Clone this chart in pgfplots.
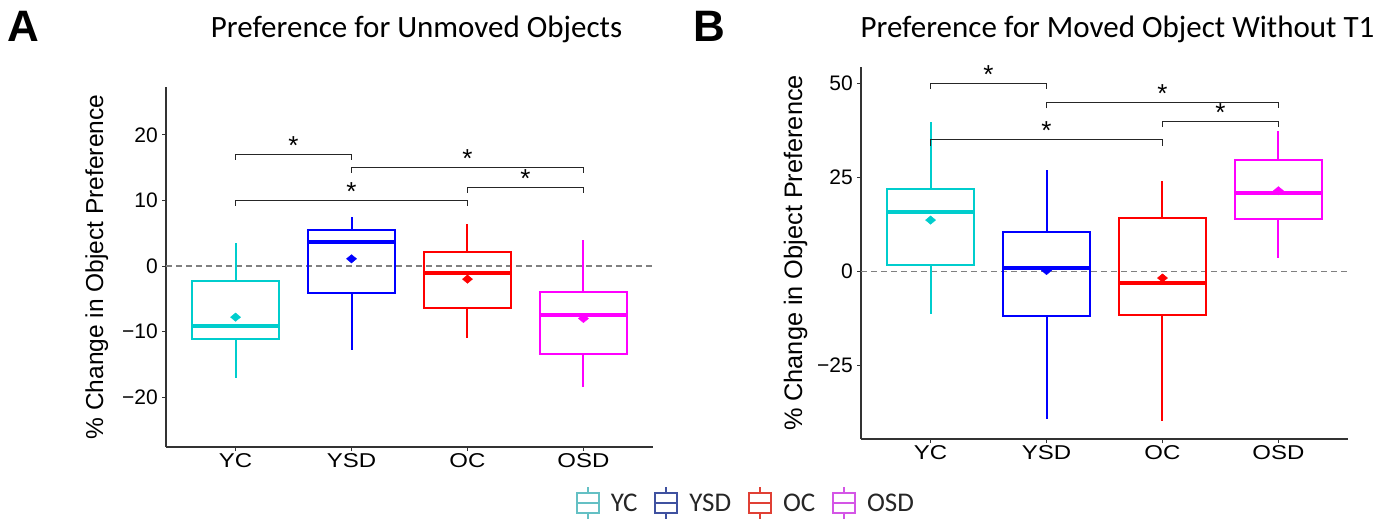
\documentclass[border=0pt]{standalone}
\usepackage{fontspec}
\setmainfont{Liberation Sans}
\newfontfamily\carl{Carlito}
\usepackage{graphicx}
\usepackage{pgfplots}
\pgfplotsset{compat=1.18}
\usepgfplotslibrary{statistics}
\definecolor{cYC}{RGB}{0,205,205}
\definecolor{cYSD}{RGB}{0,0,255}
\definecolor{cOC}{RGB}{255,0,0}
\definecolor{cOSD}{RGB}{255,0,255}
\definecolor{lYC}{RGB}{100,192,196}
\definecolor{lYSD}{RGB}{63,81,160}
\definecolor{lOC}{RGB}{224,64,53}
\definecolor{lOSD}{RGB}{212,85,230}
\definecolor{axgray}{RGB}{51,51,51}
\tikzset{ast/.style={font=\fontsize{26bp}{28bp}\selectfont, yshift=9bp}}
\pgfplotsset{
  boxleg/.style={legend image code/.code={
    \draw[##1, line width=1.8bp] (0bp,-10bp) rectangle (22bp,10bp);
    \draw[##1, line width=1.8bp] (0bp,0bp) -- (22bp,0bp);
    \draw[##1, line width=1.8bp] (11bp,10bp) -- (11bp,16bp);
    \draw[##1, line width=1.8bp] (11bp,-10bp) -- (11bp,-16bp);
  }},
  common/.style={
    scale only axis, clip=false,
    axis lines*=left, axis line style={-, axgray, line width=1.2bp},
    tick align=outside, major tick length=4bp,
    tick style={axgray, line width=1bp},
    xmin=0.4, xmax=4.6,
    xtick={1,2,3,4},
    xticklabels={\scalebox{1.2}[1]{YC},\scalebox{1.2}[1]{YSD},\scalebox{1.2}[1]{OC},\scalebox{1.2}[1]{OSD}},
    xticklabel style={font=\fontsize{20bp}{24bp}\selectfont, inner sep=0pt, anchor=north, yshift=-2bp},
    yticklabel style={font=\fontsize{21bp}{24bp}\selectfont, inner sep=0pt, anchor=east, xshift=-4bp},
    /pgf/number format/assume math mode=true,
    boxplot/draw direction=y,
    boxplot/every median/.style={line width=4bp},
    boxplot/whisker extend=0,
    boxplot/box extend=0.75,
  },
  bx/.style={line width=2bp, solid},
  mn/.style={only marks, mark=diamond*, mark size=4.2bp, mark options={xscale=1.6}},
  br/.style={black!85, line width=1bp},
  zl/.style={gray, line width=1.2bp, dash pattern=on 6bp off 4bp},
}
\begin{document}
\begin{tikzpicture}
\path[use as bounding box] (0,0) rectangle (1397bp,-521bp);
% ---------------- Panel A ----------------
\begin{axis}[common,
  at={(166bp,-447bp)}, anchor=south west,
  width=487bp, height=360bp,
  ymin=-27.6, ymax=27.3,
  ytick={-20,-10,0,10,20},
  yticklabels={−20,−10,0,10,20},
  ylabel={\% Change in Object Preference},
  every axis y label/.style={at={(axis description cs:-0.129,0.5)}, rotate=90, anchor=base,
     font=\fontsize{24.5bp}{28bp}\selectfont},
  legend style={draw=none, fill=none, at={(rel axis cs:1.1889,-0.1556)}, anchor=center,
     font=\carl\fontsize{27bp}{30bp}\selectfont, text=black!85,
     nodes={inner sep=0pt},
     /tikz/every odd column/.append style={column sep=11bp},
     /tikz/every even column/.append style={column sep=17bp}},
  legend columns=4, legend cell align=left,
]
\addlegendimage{boxleg, draw=lYC}\addlegendentry{YC}
\addlegendimage{boxleg, draw=lYSD}\addlegendentry{YSD}
\addlegendimage{boxleg, draw=lOC}\addlegendentry{OC}
\addlegendimage{boxleg, draw=lOSD}\addlegendentry{OSD}
\addplot[zl] coordinates {(0.4,0) (4.6,0)};
\addplot[bx, cYC, boxplot prepared={draw position=1, lower whisker=-17.1, lower quartile=-11.2, median=-9.1, upper quartile=-2.3, upper whisker=3.5}] coordinates {};
\addplot[bx, cYSD, boxplot prepared={draw position=2, lower whisker=-12.8, lower quartile=-4.1, median=3.7, upper quartile=5.5, upper whisker=7.5}] coordinates {};
\addplot[bx, cOC, boxplot prepared={draw position=3, lower whisker=-11.0, lower quartile=-6.4, median=-1.1, upper quartile=2.2, upper whisker=6.4}] coordinates {};
\addplot[bx, cOSD, boxplot prepared={draw position=4, lower whisker=-18.5, lower quartile=-13.4, median=-7.5, upper quartile=-4.0, upper whisker=3.9}] coordinates {};
\addplot[mn, cYC] coordinates {(1,-7.8)};
\addplot[mn, cYSD] coordinates {(2,1.1)};
\addplot[mn, cOC] coordinates {(3,-2.0)};
\addplot[mn, cOSD] coordinates {(4,-8.0)};
% significance brackets
\addplot[br] coordinates {(1,16.2) (1,17) (2,17) (2,16.2)};
\addplot[br] coordinates {(2,14.2) (2,15) (4,15) (4,14.2)};
\addplot[br] coordinates {(3,11.2) (3,12) (4,12) (4,11.2)};
\addplot[br] coordinates {(1,9.2) (1,10) (3,10) (3,9.2)};
\node[ast] at (axis cs:1.5,17) {*};
\node[ast] at (axis cs:3,15) {*};
\node[ast] at (axis cs:3.5,12) {*};
\node[ast] at (axis cs:2,10) {*};
\end{axis}
% ---------------- Panel B ----------------
\begin{axis}[common,
  at={(861bp,-439bp)}, anchor=south west,
  width=487bp, height=372bp,
  ymin=-44.6, ymax=54.3,
  ytick={-25,0,25,50},
  yticklabels={−25,0,25,50},
  ylabel={\% Change in Object Preference},
  every axis y label/.style={at={(axis description cs:-0.121,0.5)}, rotate=90, anchor=base,
     font=\fontsize{25.3bp}{28bp}\selectfont},
]
\addplot[zl] coordinates {(0.4,0) (4.6,0)};
\addplot[bx, cYC, boxplot prepared={draw position=1, lower whisker=-11.4, lower quartile=1.7, median=15.7, upper quartile=21.8, upper whisker=39.7}] coordinates {};
\addplot[bx, cYSD, boxplot prepared={draw position=2, lower whisker=-39.4, lower quartile=-11.9, median=0.8, upper quartile=10.5, upper whisker=26.8}] coordinates {};
\addplot[bx, cOC, boxplot prepared={draw position=3, lower whisker=-39.7, lower quartile=-11.7, median=-3.0, upper quartile=14.2, upper whisker=24.1}] coordinates {};
\addplot[bx, cOSD, boxplot prepared={draw position=4, lower whisker=3.4, lower quartile=13.9, median=20.7, upper quartile=29.7, upper whisker=37.2}] coordinates {};
\addplot[mn, cYC] coordinates {(1,13.6)};
\addplot[mn, cYSD] coordinates {(2,0.2)};
\addplot[mn, cOC] coordinates {(3,-1.8)};
\addplot[mn, cOSD] coordinates {(4,21.4)};
\addplot[br] coordinates {(1,48.4) (1,50) (2,50) (2,48.4)};
\addplot[br] coordinates {(2,43.3) (2,44.9) (4,44.9) (4,43.3)};
\addplot[br] coordinates {(3,38.3) (3,39.9) (4,39.9) (4,38.3)};
\addplot[br] coordinates {(1,33.3) (1,34.9) (3,34.9) (3,33.3)};
\node[ast] at (axis cs:1.5,50) {*};
\node[ast] at (axis cs:3,44.9) {*};
\node[ast] at (axis cs:3.5,39.9) {*};
\node[ast] at (axis cs:2,34.9) {*};
\end{axis}
% titles and panel letters
\node[font=\bfseries\fontsize{44bp}{48bp}\selectfont, anchor=base west, inner sep=0pt] at (7bp,-41bp) {A};
\node[font=\bfseries\fontsize{44bp}{48bp}\selectfont, anchor=base west, inner sep=0pt] at (693bp,-41bp) {B};
\node[font=\carl\fontsize{31bp}{36bp}\selectfont, anchor=base, inner sep=0pt] at (416.5bp,-37bp) {Preference for Unmoved Objects};
\node[font=\carl\fontsize{31bp}{36bp}\selectfont, anchor=base, inner sep=0pt] at (1117.5bp,-37bp) {Preference for Moved Object Without T1};
\end{tikzpicture}
\end{document}
